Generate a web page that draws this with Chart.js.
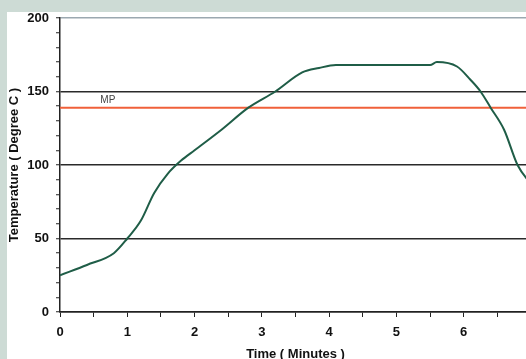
<!DOCTYPE html>
<html>
<head>
<meta charset="utf-8">
<script src="https://cdn.jsdelivr.net/npm/chart.js@4.4.1/dist/chart.umd.min.js"></script>
<style>
  html, body { margin: 0; padding: 0; width: 526px; height: 359px; overflow: hidden; background: #cddbd5; }
  #chart { position: absolute; left: 7px; top: 12px; background: #fff; }
</style>
</head>
<body>
<canvas id="chart" width="528" height="351"></canvas>
<script>
// heating curve (time in minutes, temperature in deg C)
var timeMin = [0, 0.4, 0.8, 1.0, 1.2, 1.4, 1.6, 1.8, 2.0, 2.4, 2.8, 3.2, 3.6, 3.85, 4.1, 5.5, 5.6, 5.9, 6.1, 6.25, 6.4, 6.6, 6.8, 7.0];
var tempC = [25, 32, 40, 50, 62, 81, 94, 103, 110, 124, 139, 150, 163, 166, 168, 168, 170, 167, 158, 150, 139, 124, 100, 87];

var mpValue = 139;     // melting point line
var mpLabel = "MP";
var mpLabelX = 0.6;

var xTicks = [0, 0.5, 1, 1.5, 2, 2.5, 3, 3.5, 4, 4.5, 5, 5.5, 6, 6.5, 7];
var xLabels = [0, 1, 2, 3, 4, 5, 6, 7];
var yTicks = [0, 10, 20, 30, 40, 50, 60, 70, 80, 90, 100, 110, 120, 130, 140, 150, 160, 170, 180, 190, 200];
var yLabels = [0, 50, 100, 150, 200];

var tickFont = { family: "'Liberation Sans', Arial, sans-serif", size: 13, weight: "bold" };
var titleFont = { family: "'Liberation Sans', Arial, sans-serif", size: 13, weight: "bold" };

var mpText = {
  id: "mpText",
  afterDatasetsDraw: function (chart) {
    var c = chart.ctx;
    var x = chart.scales.x.getPixelForValue(mpLabelX);
    var y = chart.scales.y.getPixelForValue(mpValue);
    c.save();
    c.font = "10px 'Liberation Sans', Arial, sans-serif";
    c.fillStyle = "#444";
    c.textAlign = "left";
    c.textBaseline = "bottom";
    c.fillText(mpLabel, x, y - 2);
    c.restore();
  }
};

new Chart(document.getElementById("chart"), {
  type: "line",
  data: {
    datasets: [
      {
        data: timeMin.map(function (t, i) { return { x: t, y: tempC[i] }; }),
        borderColor: "#1f5d47",
        borderWidth: 2,
        pointRadius: 0,
        cubicInterpolationMode: "monotone",
        fill: false
      },
      {
        data: [{ x: 0, y: mpValue }, { x: 7, y: mpValue }],
        borderColor: "#f0603a",
        borderWidth: 2,
        pointRadius: 0,
        fill: false
      }
    ]
  },
  options: {
    responsive: false,
    animation: false,
    devicePixelRatio: 1,
    layout: { padding: 0 },
    plugins: { legend: { display: false }, tooltip: { enabled: false } },
    scales: {
      x: {
        type: "linear",
        min: 0,
        max: 7,
        afterBuildTicks: function (s) { s.ticks = xTicks.map(function (v) { return { value: v }; }); },
        afterFit: function (s) { s.height = 51; s.paddingLeft = 0; s.paddingRight = 4; },
        border: { color: "#222", width: 1.5 },
        grid: { drawOnChartArea: false, tickLength: 5, tickColor: "#222", tickWidth: 1 },
        ticks: {
          autoSkip: false,
          maxRotation: 0,
          padding: 8,
          color: "#111",
          font: tickFont,
          callback: function (v) { return xLabels.indexOf(v) >= 0 ? String(v) : ""; }
        },
        title: { display: true, text: "Time ( Minutes )", color: "#111", font: titleFont, padding: { top: 0, bottom: 1 } }
      },
      y: {
        min: 0,
        max: 200,
        afterBuildTicks: function (s) { s.ticks = yTicks.map(function (v) { return { value: v }; }); },
        afterFit: function (s) { s.width = 53; s.paddingTop = 6; s.paddingBottom = 0; },
        border: { color: "#222", width: 1.5 },
        grid: {
          tickLength: 4,
          tickColor: "#222",
          tickWidth: 1,
          lineWidth: 1.5,
          color: function (ctx) {
            var v = ctx.tick && ctx.tick.value;
            if (v === 200) return "#9ba8b0";
            return yLabels.indexOf(v) >= 0 ? "#2a2a2a" : "rgba(0,0,0,0)";
          }
        },
        ticks: {
          autoSkip: false,
          padding: 7,
          color: "#111",
          font: tickFont,
          callback: function (v) { return yLabels.indexOf(v) >= 0 ? String(v) : ""; }
        },
        title: { display: true, text: "Temperature ( Degree C )", color: "#111", font: titleFont, padding: 0 }
      }
    }
  },
  plugins: [mpText]
});
</script>
</body>
</html>
